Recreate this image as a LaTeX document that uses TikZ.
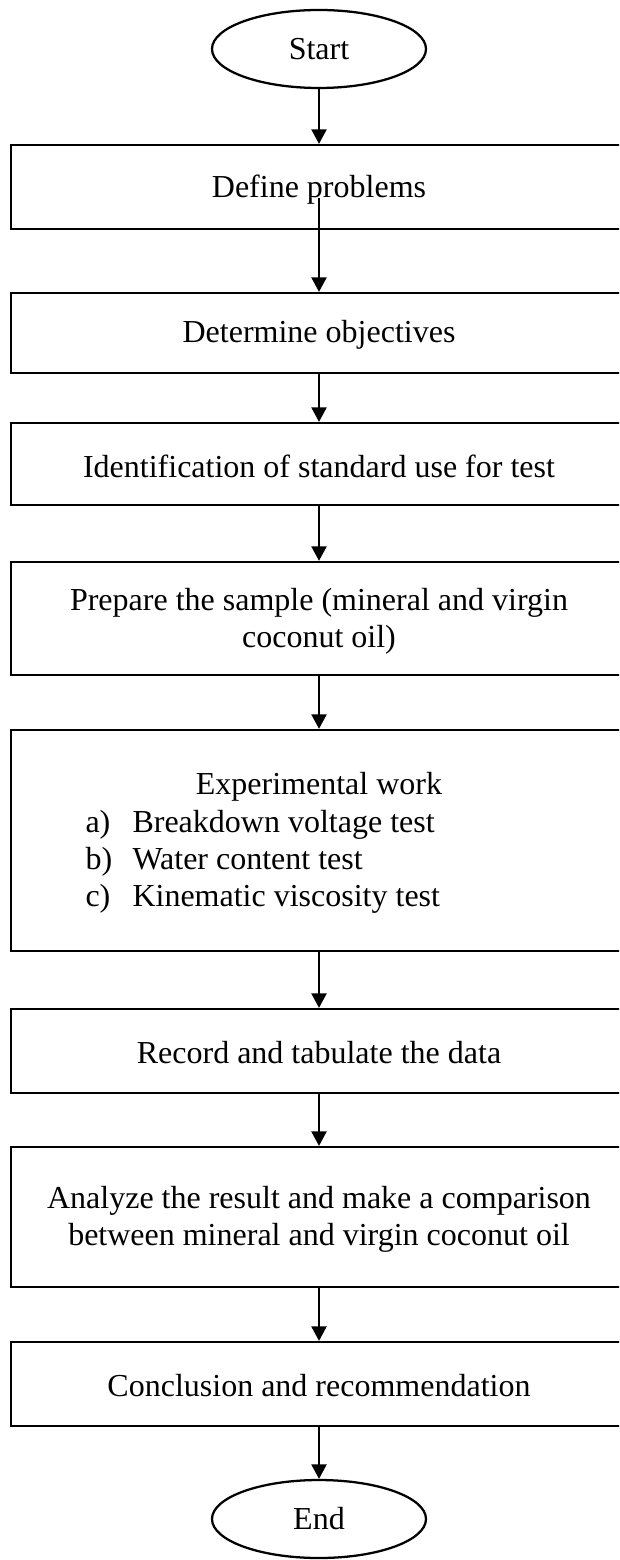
\documentclass[tikz,border=0pt]{standalone}
\usepackage{fontspec}
\setmainfont{Liberation Serif}
\usetikzlibrary{shapes.geometric,arrows.meta}
\tikzset{
  flowbox/.style={draw, line width=0.85pt, rectangle, inner sep=0pt, minimum width=231pt},
  term/.style={draw, line width=0.85pt, ellipse, inner sep=0pt, minimum width=80.25pt, minimum height=29.25pt},
  txt/.style={inner sep=0pt, font=\fontsize{12}{13.8}\selectfont, align=center},
  flow/.style={line width=0.8pt, -{Triangle[length=5.4pt,width=5.6pt]}}
}
\begin{document}
\begin{tikzpicture}[x=0.375pt,y=-0.375pt]
\useasboundingbox (0,0) rectangle (619,1560);
\clip (0,0) rectangle (619,1560);
% terminals
\node[term] (start) at (319,49) {};
\node[txt] (tstart) at (319,49) {Start};
\node[term] (end) at (319,1519) {};
\node[txt] (tend) at (319,1519) {End};
% boxes
\node[flowbox, minimum height=31.5pt] (b1) at (319,187) {};
\node[txt] (t1) at (319,190) {Define problems};
\node[flowbox, minimum height=30pt] (b2) at (319,333) {};
\node[txt] (t2) at (319,335) {Determine objectives};
\node[flowbox, minimum height=30.75pt] (b3) at (319,464) {};
\node[txt] (t3) at (319,466) {Identification of standard use for test};
\node[flowbox, minimum height=42.4pt] (b4) at (319,618.5) {};
\node[txt] (t4) at (319,621) {Prepare the sample (mineral and virgin\\coconut oil)};
\node[flowbox, minimum height=82.9pt] (b5) at (319,840.5) {};
\node[txt] (t5) at (319,787) {Experimental work};
\node[txt, anchor=base west] (l5a) at (85,832) {a)};
\node[txt, anchor=base west] (i5a) at (132,832) {Breakdown voltage test};
\node[txt, anchor=base west] (l5b) at (85,869) {b)};
\node[txt, anchor=base west] (i5b) at (132,869) {Water content test};
\node[txt, anchor=base west] (l5c) at (85,906) {c)};
\node[txt, anchor=base west] (i5c) at (132,906) {Kinematic viscosity test};
\node[flowbox, minimum height=31.5pt] (b6) at (319,1051) {};
\node[txt] (t6) at (319,1053) {Record and tabulate the data};
\node[flowbox, minimum height=52.5pt] (b7) at (319,1217) {};
\node[txt] (t7) at (319,1219) {Analyze the result and make a comparison\\between mineral and virgin coconut oil};
\node[flowbox, minimum height=31.5pt] (b8) at (319,1384) {};
\node[txt] (t8) at (319,1386) {Conclusion and recommendation};
% connectors
\coordinate (a1) at (319,198);
\draw[flow] (start.south) -- (b1.north);
\draw[flow] (a1) -- (b2.north);
\draw[flow] (b2.south) -- (b3.north);
\draw[flow] (b3.south) -- (b4.north);
\draw[flow] (b4.south) -- (b5.north);
\draw[flow] (b5.south) -- (b6.north);
\draw[flow] (b6.south) -- (b7.north);
\draw[flow] (b7.south) -- (b8.north);
\draw[flow] (b8.south) -- (end.north);
\end{tikzpicture}
\end{document}
